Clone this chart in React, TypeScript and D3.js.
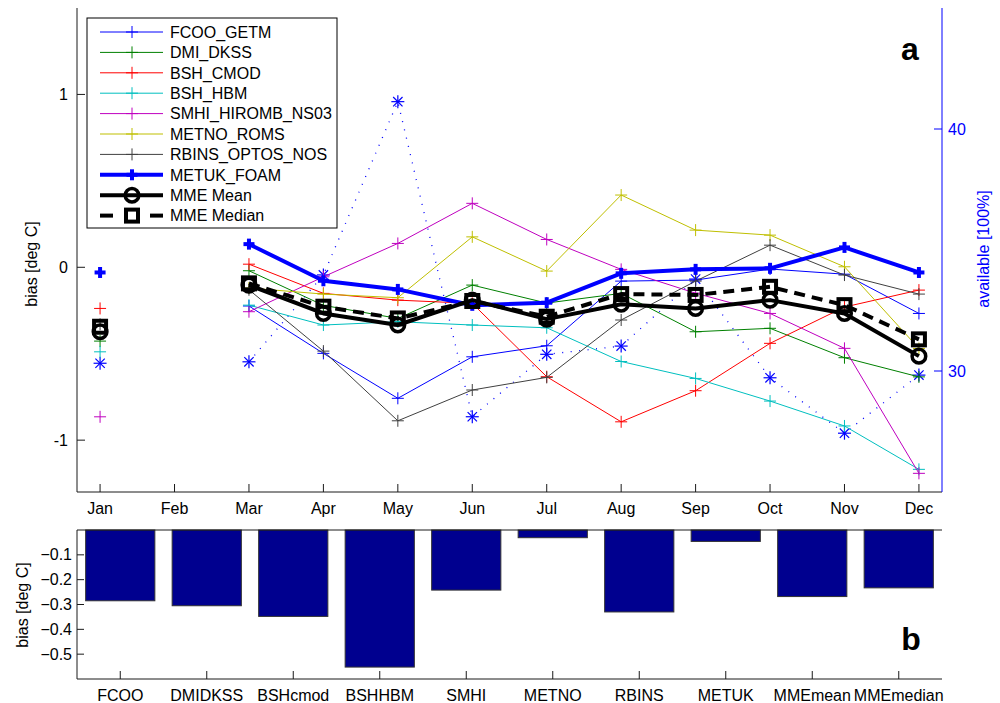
import React from "react";
import * as d3 from "d3";

// ---------- data ----------
const months = ["Jan", "Feb", "Mar", "Apr", "May", "Jun", "Jul", "Aug", "Sep", "Oct", "Nov", "Dec"];
type V = number | null;
const fcooGetm: V[] = [null, null, -0.224, -0.498, -0.758, -0.518, -0.454, -0.08, -0.074, -0.01, -0.04, -0.267];
const dmiDkss: V[] = [-0.427, null, -0.02, -0.22, -0.296, -0.103, -0.207, -0.151, -0.373, -0.353, -0.523, -0.634];
const bshCmod: V[] = [-0.238, null, 0.018, -0.151, -0.19, -0.209, -0.633, -0.894, -0.714, -0.44, -0.23, -0.132];
const bshHbm: V[] = [-0.489, null, -0.219, -0.334, -0.315, -0.334, -0.35, -0.545, -0.643, -0.774, -0.918, -1.169];
const smhiHiromb: V[] = [-0.865, null, -0.257, -0.055, 0.138, 0.37, 0.161, -0.012, -0.15, -0.267, -0.469, -1.192];
const metnoRoms: V[] = [null, null, -0.12, -0.155, -0.176, 0.176, -0.022, 0.418, 0.215, 0.186, 0.003, -0.47];
const rbinsOptos: V[] = [-0.33, null, -0.13, -0.485, -0.888, -0.71, -0.637, -0.305, -0.08, 0.128, -0.045, -0.155];
const metukFoam: V[] = [-0.03, null, 0.134, -0.078, -0.128, -0.22, -0.205, -0.035, -0.012, -0.006, 0.115, -0.03];
const mmeMean: V[] = [-0.373, null, -0.103, -0.267, -0.334, -0.19, -0.3, -0.214, -0.238, -0.19, -0.267, -0.514];
const mmeMedian: V[] = [-0.344, null, -0.093, -0.228, -0.296, -0.195, -0.286, -0.155, -0.16, -0.113, -0.219, -0.417];
const availability: V[] = [30.32, null, 30.38, 33.97, 41.13, 28.11, 30.69, 31.03, 33.8, 29.72, 27.43, 29.83];

const biasTicks = [-1, 0, 1];
const availTicks = [30, 40];

const barCategories = ["FCOO", "DMIDKSS", "BSHcmod", "BSHHBM", "SMHI", "METNO", "RBINS", "METUK", "MMEmean", "MMEmedian"];
const barValues = [-0.285, -0.305, -0.348, -0.552, -0.242, -0.031, -0.33, -0.046, -0.268, -0.233];
const barTicks = [-0.5, -0.4, -0.3, -0.2, -0.1];

// ---------- styling ----------
type Marker = "plus" | "circle" | "square";
interface Series { name: string; values: V[]; color: string; width: number; marker: Marker; dash?: string; mw?: number; ms?: number; }
const series: Series[] = [
  { name: "FCOO_GETM", values: fcooGetm, color: "#0000FF", width: 1, marker: "plus" },
  { name: "DMI_DKSS", values: dmiDkss, color: "#008000", width: 1, marker: "plus" },
  { name: "BSH_CMOD", values: bshCmod, color: "#FF0000", width: 1, marker: "plus" },
  { name: "BSH_HBM", values: bshHbm, color: "#00BFBF", width: 1, marker: "plus" },
  { name: "SMHI_HIROMB_NS03", values: smhiHiromb, color: "#BF00BF", width: 1, marker: "plus" },
  { name: "METNO_ROMS", values: metnoRoms, color: "#BFBF00", width: 1, marker: "plus" },
  { name: "RBINS_OPTOS_NOS", values: rbinsOptos, color: "#404040", width: 1, marker: "plus" },
  { name: "METUK_FOAM", values: metukFoam, color: "#0000FF", width: 4, marker: "plus", mw: 4, ms: 5.5 },
  { name: "MME Mean", values: mmeMean, color: "#000000", width: 4, marker: "circle" },
  { name: "MME Median", values: mmeMedian, color: "#000000", width: 4, marker: "square", dash: "11 7" },
];

const FONT = "'Liberation Sans', Arial, Helvetica, sans-serif";
const AX = "#1a1a1a";

const L = 77, R = 942;
const TOP1 = 8, BOT1 = 492;
const TOP2 = 530, BOT2 = 679;

function MarkerShape({ type, x, y, color, mw = 1, ms = 6 }: { type: Marker | "asterisk"; x: number; y: number; color: string; mw?: number; ms?: number }) {
  if (type === "plus") {
    return (
      <g stroke={color} strokeWidth={mw}>
        <line x1={x - ms} x2={x + ms} y1={y} y2={y} />
        <line x1={x} x2={x} y1={y - ms} y2={y + ms} />
      </g>
    );
  }
  if (type === "asterisk") {
    const d = ms * 0.72;
    return (
      <g stroke={color} strokeWidth={1.2}>
        <line x1={x - ms} x2={x + ms} y1={y} y2={y} />
        <line x1={x} x2={x} y1={y - ms} y2={y + ms} />
        <line x1={x - d} x2={x + d} y1={y - d} y2={y + d} />
        <line x1={x - d} x2={x + d} y1={y + d} y2={y - d} />
      </g>
    );
  }
  if (type === "circle") {
    return <circle cx={x} cy={y} r={6.8} fill="none" stroke={color} strokeWidth={3.5} />;
  }
  return <rect x={x - 6} y={y - 6} width={12} height={12} fill="none" stroke={color} strokeWidth={4} />;
}

export default function App() {
  const x = d3.scaleLinear().domain([0.69, 12.31]).range([L, R]);
  const y = d3.scaleLinear().domain([-1.3, 1.5]).range([BOT1, TOP1]);
  const yA = d3.scaleLinear().domain([25, 45]).range([BOT1, TOP1]);
  const xb = d3.scaleBand<string>().domain(barCategories).range([L, R]).paddingInner(0.2).paddingOuter(0.1);
  const yb = d3.scaleLinear().domain([-0.6, 0]).range([BOT2, TOP2]);

  const line = (sc: d3.ScaleLinear<number, number>) =>
    d3.line<V>().defined((d) => d != null).x((_, i) => x(i + 1)).y((d) => sc(d as number));

  const legendY = (i: number) => 32 + i * 20.4;

  return (
    <svg width={1000} height={703} style={{ position: "absolute", left: 0, top: 0, background: "#fff" }} fontFamily={FONT}>
      {/* ---------- top panel ---------- */}
      <path d={line(yA)(availability) || ""} fill="none" stroke="#0000FF" strokeWidth={1.3} strokeDasharray="1 7.5" />
      {availability.map((v, i) => v == null ? null : <MarkerShape key={"a" + i} type="asterisk" x={x(i + 1)} y={yA(v)} color="#0000FF" ms={6.5} />)}

      {series.map((s) => (
        <g key={s.name}>
          <path d={line(y)(s.values) || ""} fill="none" stroke={s.color} strokeWidth={s.width} strokeDasharray={s.dash} strokeLinejoin="round" />
          {s.values.map((v, i) => v == null ? null : (
            <MarkerShape key={i} type={s.marker} x={x(i + 1)} y={y(v)} color={s.color} mw={s.mw ?? 1} ms={s.ms ?? 6} />
          ))}
        </g>
      ))}

      {/* axes */}
      <line x1={L} x2={L} y1={TOP1} y2={BOT1} stroke={AX} />
      <line x1={L} x2={R} y1={BOT1} y2={BOT1} stroke={AX} />
      <line x1={R} x2={R} y1={TOP1} y2={BOT1} stroke="#0000FF" />
      {months.map((m, i) => (
        <g key={m}>
          <line x1={x(i + 1)} x2={x(i + 1)} y1={BOT1} y2={BOT1 - 8} stroke={AX} />
          <text x={x(i + 1)} y={514} fontSize={16} textAnchor="middle" fill="#000">{m}</text>
        </g>
      ))}
      {biasTicks.map((t) => (
        <g key={t}>
          <line x1={L} x2={L + 8} y1={y(t)} y2={y(t)} stroke={AX} />
          <text x={68} y={y(t)} dy="0.35em" fontSize={16} textAnchor="end" fill="#000">{t < 0 ? "-" + Math.abs(t) : t}</text>
        </g>
      ))}
      {availTicks.map((t) => (
        <g key={t}>
          <line x1={R - 8} x2={R} y1={yA(t)} y2={yA(t)} stroke="#0000FF" />
          <text x={948} y={yA(t)} dy="0.35em" fontSize={16} fill="#0000FF">{t}</text>
        </g>
      ))}
      <text transform="translate(37,264) rotate(-90)" fontSize={16} textAnchor="middle" fill="#000">bias [deg C]</text>
      <text transform="translate(989,249) rotate(-90)" fontSize={16} textAnchor="middle" fill="#0000FF">available [100%]</text>
      <text x={910} y={60} fontSize={32} fontWeight="bold" textAnchor="middle" fill="#000">a</text>

      {/* legend */}
      <rect x={87} y={18} width={250} height={210} fill="#fff" stroke="#000" strokeWidth={1} />
      {series.map((s, i) => {
        const ly = legendY(i);
        return (
          <g key={"lg" + s.name}>
            {s.dash ? (
              <g stroke={s.color} strokeWidth={s.width}>
                <line x1={100} x2={113} y1={ly} y2={ly} />
                <line x1={150} x2={163} y1={ly} y2={ly} />
              </g>
            ) : (
              <line x1={100} x2={163} y1={ly} y2={ly} stroke={s.color} strokeWidth={s.width} />
            )}
            <MarkerShape type={s.marker} x={132} y={ly} color={s.color} mw={s.mw ?? 1} ms={s.ms ?? 6} />
            <text x={170} y={ly} dy="0.36em" fontSize={16} fill="#000">{s.name}</text>
          </g>
        );
      })}

      {/* ---------- bottom panel ---------- */}
      {barCategories.map((c, i) => (
        <rect key={c} x={xb(c)} y={yb(0)} width={xb.bandwidth()} height={yb(barValues[i]) - yb(0)} fill="#00008F" stroke="#333" strokeWidth={1} />
      ))}
      <line x1={L} x2={R} y1={TOP2} y2={TOP2} stroke={AX} />
      <line x1={L} x2={L} y1={TOP2} y2={BOT2} stroke={AX} />
      <line x1={L} x2={R} y1={BOT2} y2={BOT2} stroke={AX} />
      {barCategories.map((c) => {
        const cx = (xb(c) as number) + xb.bandwidth() / 2;
        return (
          <g key={"t" + c}>
            <line x1={cx} x2={cx} y1={BOT2} y2={BOT2 - 8} stroke={AX} />
            <text x={cx} y={701} fontSize={16} textAnchor="middle" fill="#000">{c}</text>
          </g>
        );
      })}
      {barTicks.map((t) => (
        <g key={t}>
          <line x1={L} x2={L + 7} y1={yb(t)} y2={yb(t)} stroke={AX} />
          <text x={72} y={yb(t)} dy="0.35em" fontSize={16} textAnchor="end" fill="#000">{"\u2212" + Math.abs(t).toFixed(1)}</text>
        </g>
      ))}
      <text transform="translate(28,605) rotate(-90)" fontSize={16} textAnchor="middle" fill="#000">bias [deg C]</text>
      <text x={911} y={650} fontSize={32} fontWeight="bold" textAnchor="middle" fill="#000">b</text>
    </svg>
  );
}
